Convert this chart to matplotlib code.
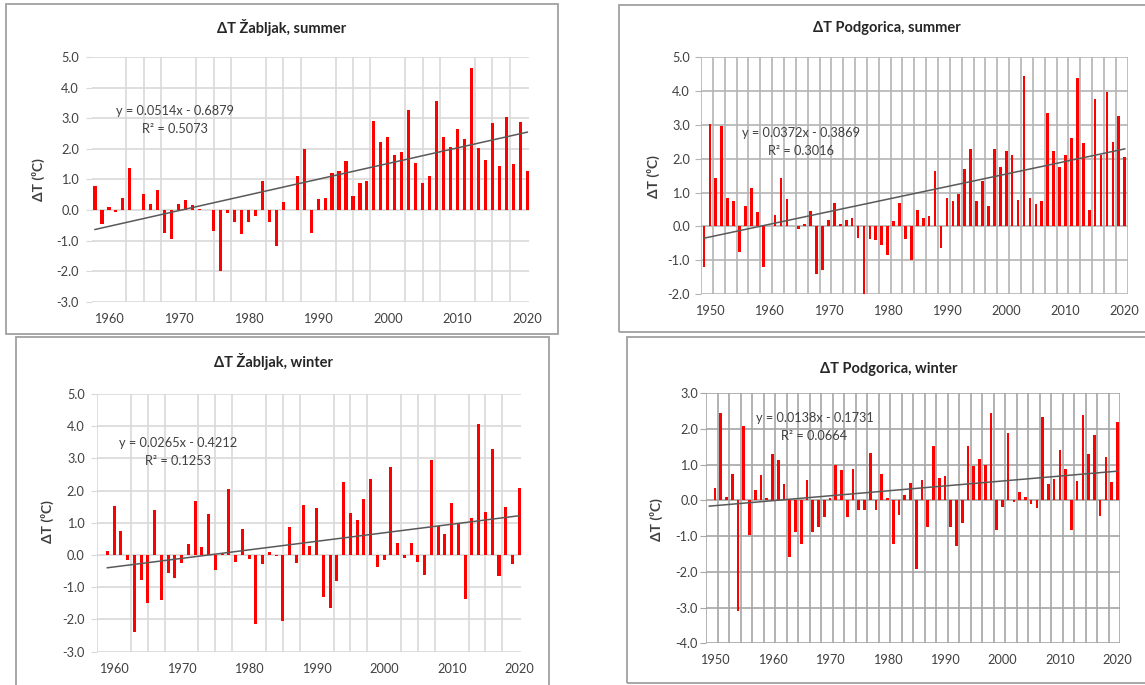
import numpy as np
import matplotlib
matplotlib.use("Agg")
import matplotlib.pyplot as plt
from matplotlib.patches import Rectangle

plt.rcParams['font.family'] = ['Lato', 'DejaVu Sans']

W, H = 1145, 685

# --- data (deviation from mean, degC) ---
zab_summer_years = np.arange(1958, 2021)
zab_summer = [0.80, -0.47, 0.09, -0.05, 0.38, 1.39, 0.00, 0.54, 0.20, 0.66,
              -0.74, -0.96, 0.19, 0.32, 0.15, 0.02, 0.00, -0.69, -2.00, -0.10,
              -0.38, -0.80, -0.38, -0.21, 0.94, -0.38, -1.17, 0.25, 0.00, 1.11,
              2.00, -0.74, 0.36, 0.38, 1.20, 1.28, 1.62, 0.46, 0.90, 0.96,
              2.93, 2.22, 2.40, 1.79, 1.89, 3.26, 1.54, 0.90, 1.11, 3.57,
              2.40, 2.06, 2.64, 2.34, 4.66, 2.02, 1.65, 2.85, 1.45, 3.03,
              1.50, 2.89, 1.28]
zab_summer_fit = (0.0514, -0.6879, 0.5073)

pg_summer_years = np.arange(1949, 2021)
pg_summer = [-1.20, 3.04, 1.43, 2.98, 0.84, 0.76, -0.75, 0.60, 1.14, 0.42,
             -1.20, 0.00, 0.33, 1.42, 0.81, 0.02, -0.08, 0.06, 0.44, -1.42,
             -1.28, 0.19, 0.68, 0.06, 0.20, 0.25, -0.35, -2.05, -0.38, -0.40,
             -0.54, -0.85, 0.17, 0.68, -0.36, -1.00, 0.47, 0.25, 0.30, 1.65,
             -0.64, 0.83, 0.76, 0.95, 1.70, 2.28, 0.75, 1.33, 0.61, 2.28,
             1.75, 2.22, 2.11, 0.77, 4.46, 0.84, 0.66, 0.75, 3.36, 2.23,
             1.75, 2.10, 2.61, 4.38, 2.48, 0.47, 3.77, 2.10, 3.97, 2.50,
             3.26, 2.05]
pg_summer_fit = (0.0372, -0.3869, 0.3016)

zab_winter_years = np.arange(1959, 2021)
zab_winter = [0.14, 1.51, 0.74, -0.15, -2.39, -0.77, -1.50, 1.41, -1.40, -0.57,
              -0.72, -0.26, 0.34, 1.69, 0.26, 1.28, -0.47, 0.03, 2.04, -0.23,
              0.82, -0.12, -2.15, -0.28, 0.08, -0.04, -2.05, 0.87, -0.25, 1.56,
              0.29, 1.47, -1.30, -1.63, -0.82, 2.26, 1.30, 1.09, 1.74, 2.35,
              -0.38, -0.14, 2.74, 0.36, -0.10, 0.36, -0.20, -0.62, 2.96, 0.90,
              0.65, 1.63, 1.01, -1.35, 1.16, 4.06, 1.33, 3.28, -0.66, 1.49,
              -0.28, 2.09]
zab_winter_fit = (0.0265, -0.4212, 0.1253)

pg_winter_years = np.arange(1949, 2021)
pg_winter = [0.00,
             0.36, 2.45, 0.11, 0.73, -3.10, 2.08, -0.98, 0.30, 0.70, 0.06,
             1.29, 1.12, 0.47, -1.59, -0.89, -1.21, 0.58, -0.89, -0.75, -0.45,
             0.06, 0.98, 0.86, -0.45, 0.88, -0.28, -0.26, 1.33, -0.26, 0.73,
             0.06, -1.21, -0.40, 0.14, 0.48, -1.93, 0.58, -0.73, 1.52, 0.63,
             0.69, -0.74, -1.27, -0.63, 1.53, 0.97, 1.15, 1.00, 2.45, -0.82,
             -0.19, 1.88, -0.05, 0.25, 0.09, -0.09, -0.21, 2.34, 0.46, 0.59,
             1.41, 0.87, -0.84, 0.55, 2.39, 1.29, 1.84, -0.43, 1.22, 0.53, 2.21]
pg_winter_fit = (0.0138, -0.1731, 0.0664)

fig = plt.figure(figsize=(W / 100, H / 100), dpi=100)


def box(x0, y0, x1, y1):
    fig.patches.append(Rectangle((x0 / W, 1 - y1 / H), (x1 - x0) / W, (y1 - y0) / H,
                                 transform=fig.transFigure, fill=False,
                                 edgecolor='#a0a0a0', lw=1.3))


def ftext(x, y, s, **kw):
    fig.text(x / W, 1 - y / H, s, ha='center', va='center', **kw)


def panel(rect, years, vals, fit, xlim, ylim, xgrid, gridcol, title, title_xy,
          ylab_xy, eq_xy, xticks, ytick_pad):
    left, top, right, bottom = rect
    ax = fig.add_axes([left / W, 1 - bottom / H, (right - left) / W, (bottom - top) / H])
    ax.bar(years, vals, width=0.45, color='#ff0000', zorder=3)
    slope, icpt, r2 = fit
    idx = np.arange(1, len(years) + 1)
    ax.plot(years, slope * idx + icpt, color='#595959', lw=1.1, zorder=4)
    ax.set_xlim(*xlim)
    ax.set_ylim(*ylim)
    yt = np.arange(ylim[0], ylim[1] + 0.01, 1.0)
    ax.set_yticks(yt)
    ax.set_yticklabels([f"{v:.1f}" for v in yt])
    ax.set_xticks(xticks)
    ax.set_xticklabels([str(x) for x in xticks])
    ax.set_xticks(xgrid, minor=True)
    ax.grid(False)
    ax.grid(True, which='minor', axis='x', color=gridcol, lw=1.2, zorder=0)
    ax.grid(True, which='major', axis='y', color=gridcol, lw=1.2, zorder=0)
    for s in ax.spines.values():
        s.set_visible(False)
    ax.tick_params(axis='x', which='both', length=0, pad=8, labelsize=9.2, labelcolor='#404040')
    ax.tick_params(axis='y', length=4, color=gridcol, pad=ytick_pad, labelsize=9.2,
                   labelcolor='#404040')
    ftext(title_xy[0], title_xy[1], title, fontsize=10.5, fontweight='bold', color='#262626')
    ftext(ylab_xy[0], ylab_xy[1], "ΔT (⁰C)", fontsize=10, fontweight='bold',
          color='#404040', rotation=90)
    ftext(eq_xy[0], eq_xy[1], f"y = {slope:.4f}x - {abs(icpt):.4f}", fontsize=9.2, color='#404040')
    ftext(eq_xy[0], eq_xy[1] + 18, f"R² = {r2:.4f}", fontsize=9.2, color='#404040')
    return ax


box(6, 4, 558, 334)
box(619, 5, 1150, 332)
box(16, 337, 549, 690)
box(627, 337, 1150, 683)

panel((91.5, 57.3, 528.7, 301.7), zab_summer_years, zab_summer, zab_summer_fit,
      (1957.5, 2020.2), (-3.0, 5.0), np.arange(1957.5, 2020.1, 2.5), '#d9d9d9',
      "ΔT Žabljak, summer", (282, 28), (38, 180), (175, 111),
      [1960, 1970, 1980, 1990, 2000, 2010, 2020], 5)

panel((701, 57.3, 1127.7, 294), pg_summer_years, pg_summer, pg_summer_fit,
      (1948.5, 2020.5), (-2.0, 5.0), np.arange(1948.5, 2020.6, 2.0), '#b4b4b4',
      "ΔT Podgorica, summer", (887, 28), (653, 177), (801, 133),
      [1950, 1960, 1970, 1980, 1990, 2000, 2010, 2020], 4)

panel((97.2, 394, 520.6, 651.7), zab_winter_years, zab_winter, zab_winter_fit,
      (1957.5, 2020.2), (-3.0, 5.0), np.arange(1957.5, 2020.1, 2.5), '#d9d9d9',
      "ΔT Žabljak, winter", (273, 362), (47, 522), (178, 443),
      [1960, 1970, 1980, 1990, 2000, 2010, 2020], 5)

panel((706.4, 393.3, 1120.3, 643.3), pg_winter_years, pg_winter, pg_winter_fit,
      (1948.5, 2020.5), (-4.0, 3.0), np.arange(1948.5, 2020.6, 2.0), '#a6a6a6',
      "ΔT Podgorica, winter", (889, 369), (656, 520), (814.5, 418),
      [1950, 1960, 1970, 1980, 1990, 2000, 2010, 2020], 2)

fig.savefig("out.png", dpi=100)
